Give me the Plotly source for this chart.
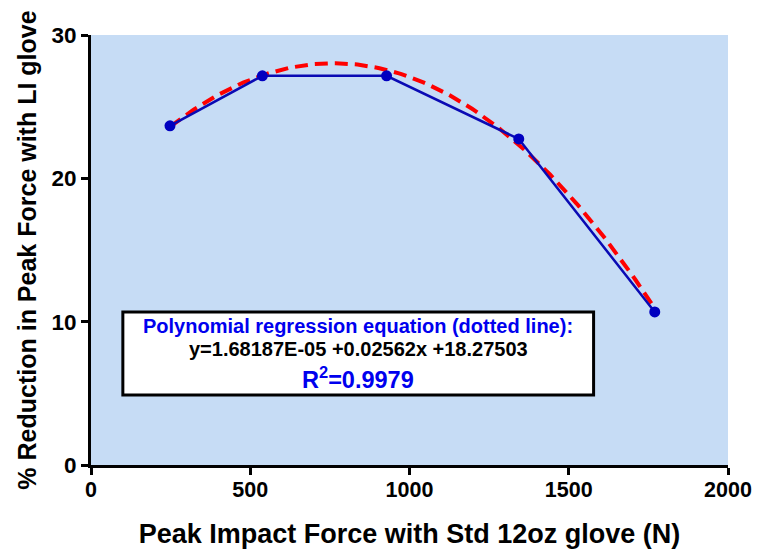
import numpy as np
import plotly.graph_objects as go

# Data
force_std = [248, 538, 928, 1343, 1770]
reduction_pct = [23.66, 27.15, 27.15, 22.75, 10.68]

# Regression coefficients as printed on the chart (quadratic term negative)
coef_a = -1.68187e-05
coef_b = 0.02562
coef_c = 18.27503
r_squared = 0.9979

x_ticks = [0, 500, 1000, 1500, 2000]
y_ticks = [0, 10, 20, 30]

fit_x = np.linspace(min(force_std), max(force_std), 200)
fit_y = coef_a * fit_x**2 + coef_b * fit_x + coef_c

FONT = "Liberation Sans, Arial, sans-serif"

fig = go.Figure()
fig.add_trace(go.Scatter(x=fit_x, y=fit_y, mode="lines",
                         line=dict(color="#ff0000", width=4, dash="13px,7px"),
                         hoverinfo="skip", showlegend=False))
fig.add_trace(go.Scatter(x=force_std, y=reduction_pct, mode="lines+markers",
                         line=dict(color="#0a0ab4", width=2.5),
                         marker=dict(color="#0000c0", size=11),
                         showlegend=False))

# Equation box
fig.add_shape(type="rect", xref="x", yref="y", x0=100, x1=1578, y0=4.88, y1=10.68,
              fillcolor="white", line=dict(color="black", width=3), layer="above")
fig.add_annotation(x=839, y=9.72, xref="x", yref="y", showarrow=False,
                   text="<b>Polynomial regression equation (dotted line):</b>",
                   font=dict(family=FONT, size=20, color="#0000ee"))
fig.add_annotation(x=839, y=8.06, xref="x", yref="y", showarrow=False,
                   text="<b>y=1.68187E-05 +0.02562x +18.27503</b>",
                   font=dict(family=FONT, size=20, color="black"))
fig.add_annotation(x=839, y=6.1, xref="x", yref="y", showarrow=False,
                   text=f"<b>R<sup>2</sup>={r_squared}</b>",
                   font=dict(family=FONT, size=23.5, color="#0000ee"))

fig.update_layout(
    width=762, height=555,
    margin=dict(l=91, r=34, t=35, b=90),
    paper_bgcolor="white",
    plot_bgcolor="#c6dcf5",
    font=dict(family=FONT, color="black"),
)
fig.update_xaxes(range=[0, 2000], tickvals=x_ticks, automargin=False,
                 ticktext=[f"<b>{v}</b>" for v in x_ticks],
                 showgrid=False, zeroline=False, showline=True,
                 linecolor="black", linewidth=3,
                 ticks="outside", ticklen=7, tickwidth=3, tickcolor="black",
                 ticklabelstandoff=-4,
                 tickfont=dict(family=FONT, size=21.5),
                 title=dict(text="<b>Peak Impact Force with Std 12oz glove (N)</b>",
                            font=dict(family=FONT, size=27), standoff=24))
fig.update_yaxes(range=[0, 30], tickvals=y_ticks, automargin=False,
                 ticktext=[f"<b>{v}</b>" for v in y_ticks],
                 showgrid=False, zeroline=False, showline=True,
                 linecolor="black", linewidth=3,
                 ticks="outside", ticklen=7, tickwidth=3, tickcolor="black",
                 tickfont=dict(family=FONT, size=22.5),
                 title=dict(text="<b>% Reduction in Peak Force with LI glove</b>",
                            font=dict(family=FONT, size=25), standoff=8))

fig.write_html("out.html")
